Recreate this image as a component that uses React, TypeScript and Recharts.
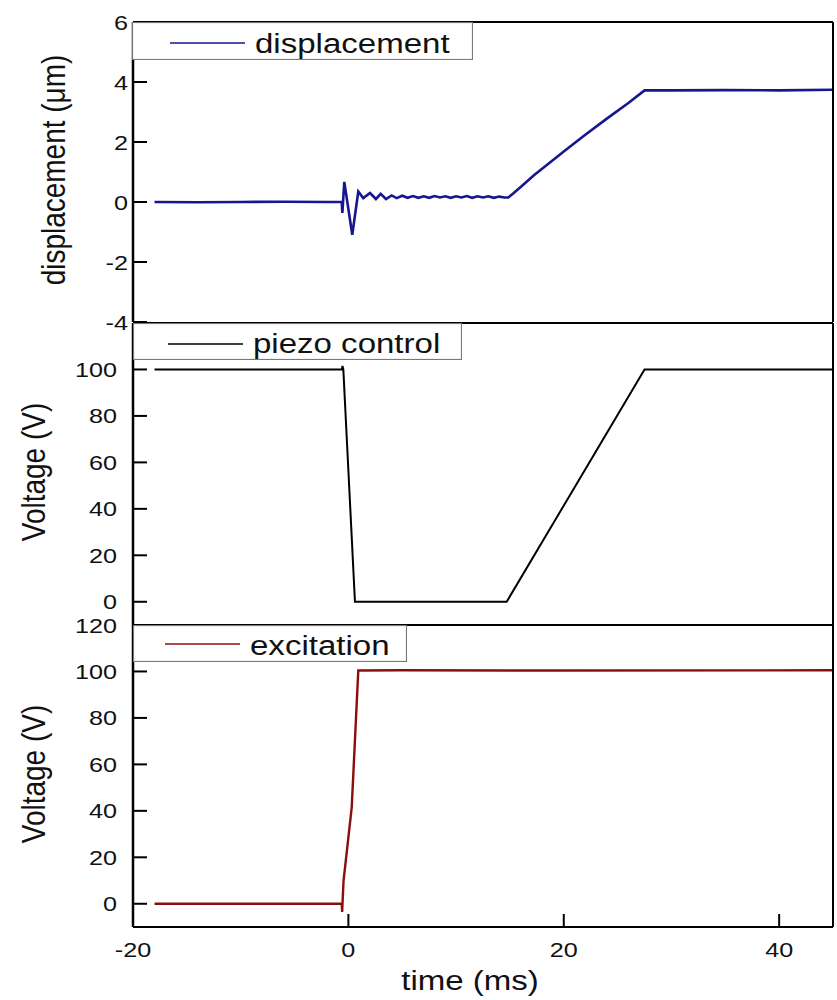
import React from 'react';
import { LineChart, Line, XAxis, YAxis, Legend, Label } from 'recharts';

const FONT = '"Liberation Sans", Arial, Helvetica, sans-serif';

// ---- axis ticks / labels ----
const timeMajor = [-20, 0, 20, 40];
const timeMinor = [-10, 10, 30];
const timeDomain: [number, number] = [-20, 45];

const dispMajor = [-4, -2, 0, 2, 4, 6];
const dispMinor = [-3, -1, 1, 3, 5];
const dispLabels = [-4, -2, 0, 2, 4, 6];
const voltMajor = [0, 20, 40, 60, 80, 100, 120];
const voltMinor = [-10, 10, 30, 50, 70, 90, 110];
const piezoLabels = [0, 20, 40, 60, 80, 100];
const excLabels = [0, 20, 40, 60, 80, 100, 120];

// ---- series: displacement (µm) ----
const dispTime = [
  -18, -14, -10, -6, -2, -0.62, -0.56, -0.38, 0.36, 0.92, 1.38, 2.01, 2.56, 3.0, 3.49,
  4.02, 4.48, 5.0, 5.5, 6.0, 6.5, 7.0, 7.5, 8.0, 8.5, 9.0, 9.5, 10.0, 10.5, 11.0, 11.5,
  12.0, 12.5, 13.0, 13.5, 14.0, 14.5, 14.85, 15.3, 16, 17.2, 18.6, 20, 22, 24, 26, 27.5, 30,
  35, 40, 45,
];
const dispValue = [
  0, -0.01, 0, 0.01, 0, 0, -0.36, 0.67, -1.09, 0.35, 0.13, 0.3, 0.1, 0.27, 0.1,
  0.22, 0.13, 0.21, 0.14, 0.2, 0.14, 0.19, 0.14, 0.2, 0.15, 0.19, 0.14, 0.19, 0.15, 0.2, 0.14,
  0.19, 0.15, 0.19, 0.14, 0.18, 0.15, 0.15, 0.28, 0.5, 0.88, 1.28, 1.68, 2.24, 2.78, 3.3, 3.72, 3.72,
  3.73, 3.72, 3.74,
];

// ---- series: piezo control (V) ----
const piezoTime = [-18, -5, -0.6, -0.55, -0.47, 0.61, 5, 10, 14.7, 27.5, 35, 45];
const piezoValue = [100, 100, 100, 101.5, 100, 0, 0, 0, 0, 100, 100, 100];

// ---- series: excitation (V) ----
const excTime = [-18, -5, -0.62, -0.58, -0.45, 0.31, 0.92, 5, 20, 45];
const excValue = [0, 0, 0, -3.5, 9.9, 41.5, 100.4, 100.5, 100.4, 100.5];

const zip = (t: number[], v: number[]) => t.map((tt, i) => ({ t: tt, v: v[i] }));
const dispData = zip(dispTime, dispValue);
const piezoData = zip(piezoTime, piezoValue);
const excData = zip(excTime, excValue);

const STRETCH = 1.2;
const PAD = 18; // extra room so edge labels are not clipped
const TL = { stroke: '#000', strokeWidth: 2 };

const makeXLabel = (show: boolean) => (props: any) => {
  const { x, y, payload } = props;
  if (!show) return <g />;
  return (
    <text
      transform={`translate(${x},${y + 30}) scale(${STRETCH},1)`}
      textAnchor="middle"
      fontSize={21}
      fontFamily={FONT}
      fill="#111"
      stroke="none"
    >
      {payload.value}
    </text>
  );
};

const makeYLabel = (labels: number[], gap: number) => (props: any) => {
  const { x, y, payload } = props;
  if (!labels.includes(payload.value)) return <g />;
  return (
    <text
      transform={`translate(${x - gap},${y + 7.5}) scale(${STRETCH},1)`}
      textAnchor="end"
      fontSize={21}
      fontFamily={FONT}
      fill="#111"
      stroke="none"
    >
      {payload.value}
    </text>
  );
};

type LegendGeom = {
  left: number; top: number; width: number; height: number;
  lineX: number; lineY: number; textX: number; textY: number;
};

const makeLegend = (g: LegendGeom) => (props: any) => {
  const item = (props.payload && props.payload[0]) || { value: '', color: '#000' };
  return (
    <svg width={g.width} height={g.height} style={{ display: 'block' }}>
      <rect x={0.5} y={0.5} width={g.width - 1} height={g.height - 1} fill="#fff" stroke="#7a7a7a" strokeWidth={1.2} />
      <line x1={g.lineX} x2={g.lineX + 75} y1={g.lineY} y2={g.lineY} stroke={item.color} strokeWidth={1.4} />
      <text
        transform={`translate(${g.textX},${g.textY}) scale(1.18,1)`}
        fontSize={28}
        fontFamily={FONT}
        fill="#111"
      >
        {item.value}
      </text>
    </svg>
  );
};

type PanelProps = {
  plotTop: number;
  plotBottom: number;
  data: { t: number; v: number }[];
  name: string;
  color: string;
  strokeWidth: number;
  yDomain: [number, number];
  yMajor: number[];
  yMinor: number[];
  yLabels: number[];
  labelGap: number;
  yTitle: string;
  yTitleX: number;
  bottomAxisH: number;
  showX: boolean;
  legend: LegendGeom;
};

const Panel = (p: PanelProps) => {
  const divTop = p.plotTop - PAD;
  const height = p.plotBottom - p.plotTop + PAD + (p.showX ? p.bottomAxisH : PAD);
  const common = { type: 'number' as const, allowDataOverflow: true, interval: 0 as const };
  return (
    <div style={{ position: 'absolute', left: 0, top: divTop, width: 837, height }}>
      <LineChart
        width={837}
        height={height}
        margin={{ top: 0, right: 0, bottom: p.showX ? 0 : PAD, left: 0 }}
      >
        {/* minor ticks first so that they sit right on the frame */}
        <XAxis xAxisId="bm" orientation="bottom" {...common} dataKey="t" domain={timeDomain} ticks={timeMinor}
          height={0} tickSize={-6} tickMargin={0} tickLine={TL} axisLine={false} tick={false} />
        <XAxis
          xAxisId="b"
          orientation="bottom"
          {...common}
          dataKey="t"
          domain={timeDomain}
          ticks={timeMajor}
          height={p.showX ? p.bottomAxisH : 0}
          tickSize={-13}
          tickMargin={13}
          tickLine={TL}
          axisLine={{ stroke: '#000', strokeWidth: 2 }}
          tick={makeXLabel(p.showX)}
        >
          {p.showX && (
            <Label
              content={(lp: any) => {
                const vb = lp.viewBox || { x: 133, y: 927, width: 700 };
                return (
                  <text
                    transform={`translate(${vb.x + vb.width / 2 - 13},${vb.y + 63}) scale(1.18,1)`}
                    textAnchor="middle"
                    fontSize={28}
                    fontFamily={FONT}
                    fill="#111"
                  >
                    time (ms)
                  </text>
                );
              }}
            />
          )}
        </XAxis>
        <XAxis xAxisId="tm" orientation="top" {...common} dataKey="t" domain={timeDomain} ticks={timeMinor}
          height={0} tickSize={-7} tickMargin={0} tickLine={TL} axisLine={false} tick={false} />
        <XAxis xAxisId="t" orientation="top" {...common} dataKey="t" domain={timeDomain} ticks={timeMajor}
          height={PAD} tickSize={-12} tickMargin={0} tickLine={TL} axisLine={{ stroke: '#000', strokeWidth: 2 }} tick={false} />
        <YAxis yAxisId="lm" orientation="left" {...common} domain={p.yDomain} ticks={p.yMinor}
          width={0} tickSize={-8} tickMargin={0} tickLine={TL} axisLine={false} tick={false} />
        <YAxis
          yAxisId="l"
          orientation="left"
          {...common}
          domain={p.yDomain}
          ticks={p.yMajor}
          width={133}
          tickSize={-14}
          tickMargin={14}
          tickLine={TL}
          axisLine={{ stroke: '#000', strokeWidth: 2.5 }}
          tick={makeYLabel(p.yLabels, p.labelGap)}
        >
          <Label
            content={(lp: any) => {
              const vb = lp.viewBox || { y: PAD, height: p.plotBottom - p.plotTop };
              const cy = vb.y + vb.height / 2 - 2;
              return (
                <text
                  transform={`translate(${p.yTitleX},${cy}) scale(1.2,1) rotate(-90)`}
                  textAnchor="middle"
                  fontSize={28}
                  fontFamily={FONT}
                  fill="#111"
                >
                  {p.yTitle}
                </text>
              );
            }}
          />
        </YAxis>
        <YAxis yAxisId="rm" orientation="right" {...common} domain={p.yDomain} ticks={p.yMinor}
          width={0} tickSize={-8} tickMargin={0} tickLine={TL} axisLine={false} tick={false} />
        <YAxis yAxisId="r" orientation="right" {...common} domain={p.yDomain} ticks={p.yMajor}
          width={4} tickSize={-14} tickMargin={0} tickLine={TL} axisLine={{ stroke: '#000', strokeWidth: 2 }} tick={false} />
        <Legend
          layout="horizontal"
          verticalAlign="middle"
          align="center"
          wrapperStyle={{
            position: 'absolute',
            left: p.legend.left,
            top: p.legend.top,
            width: p.legend.width,
            height: p.legend.height,
            margin: 0,
            padding: 0,
          }}
          content={makeLegend(p.legend)}
        />
        <Line
          xAxisId="b"
          yAxisId="l"
          data={p.data}
          dataKey="v"
          name={p.name}
          type="linear"
          stroke={p.color}
          strokeWidth={p.strokeWidth}
          dot={false}
          activeDot={false}
          isAnimationActive={false}
        />
      </LineChart>
    </div>
  );
};

export default function App() {
  return (
    <div style={{ position: 'absolute', left: 0, top: 0, width: 837, height: 1000, background: '#fff', fontFamily: FONT }}>
      <Panel
        plotTop={22}
        plotBottom={322}
        data={dispData}
        name="displacement"
        color="#16168F"
        strokeWidth={2.6}
        yDomain={[-4, 6]}
        yMajor={dispMajor}
        yMinor={dispMinor}
        yLabels={dispLabels}
        labelGap={5}
        yTitle="displacement (μm)"
        yTitleX={65}
        bottomAxisH={0}
        showX={false}
        legend={{ left: 132, top: PAD, width: 341, height: 38, lineX: 38, lineY: 21, textX: 123, textY: 31 }}
      />
      <Panel
        plotTop={323}
        plotBottom={625}
        data={piezoData}
        name="piezo control"
        color="#000000"
        strokeWidth={2}
        yDomain={[-10, 120]}
        yMajor={voltMajor}
        yMinor={voltMinor}
        yLabels={piezoLabels}
        labelGap={16}
        yTitle="Voltage (V)"
        yTitleX={45}
        bottomAxisH={0}
        showX={false}
        legend={{ left: 133, top: PAD, width: 329, height: 37, lineX: 35, lineY: 21, textX: 120, textY: 30 }}
      />
      <Panel
        plotTop={625}
        plotBottom={927}
        data={excData}
        name="excitation"
        color="#8B0E0E"
        strokeWidth={2.4}
        yDomain={[-10, 120]}
        yMajor={voltMajor}
        yMinor={voltMinor}
        yLabels={excLabels}
        labelGap={16}
        yTitle="Voltage (V)"
        yTitleX={45}
        bottomAxisH={73}
        showX={true}
        legend={{ left: 133, top: PAD, width: 274, height: 37, lineX: 32, lineY: 19, textX: 117, textY: 30 }}
      />
    </div>
  );
}
